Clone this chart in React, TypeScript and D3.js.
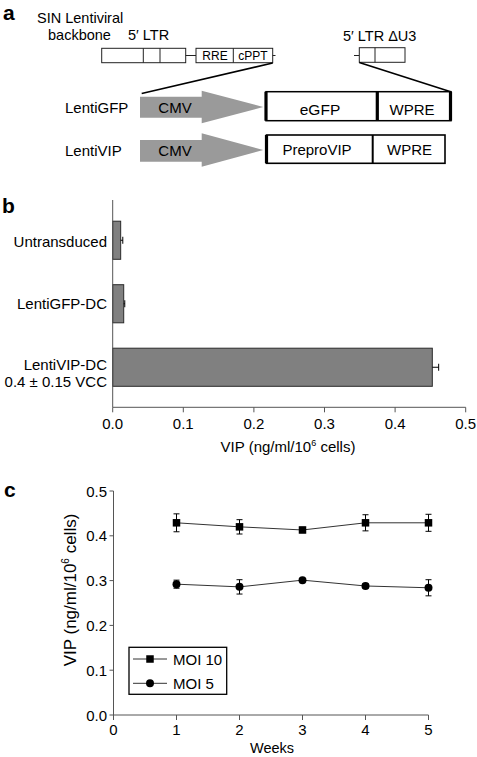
import React from "react";
import * as d3 from "d3";

// ---- Panel b data ----
const barCategories = ["Untransduced", "LentiGFP-DC", "LentiVIP-DC"];
const barValues = [0.0113, 0.0156, 0.4527];
const barErrors = [0.003, 0.0015, 0.009];
const barTicks = [0, 0.1, 0.2, 0.3, 0.4, 0.5];

// ---- Panel c data ----
const weeks = [1, 2, 3, 4, 5];
const moi10 = [0.429, 0.42, 0.413, 0.429, 0.429];
const moi10Err = [0.02, 0.016, 0.006, 0.018, 0.019];
const moi5 = [0.292, 0.286, 0.301, 0.288, 0.284];
const moi5Err = [0.009, 0.016, 0.003, 0.005, 0.018];
const weekTicks = [0, 1, 2, 3, 4, 5];
const vipTicks = [0, 0.1, 0.2, 0.3, 0.4, 0.5];

const FONT = "'Liberation Sans', Arial, Helvetica, sans-serif";

function PanelA() {
  const arrow = (top: number, bot: number, htop: number, hbot: number) => {
    const x0 = 140, xb = 201.7, xt = 263.3;
    const mid = (htop + hbot) / 2;
    return `${x0},${top} ${xb},${top} ${xb},${htop} ${xt},${mid} ${xb},${hbot} ${xb},${bot} ${x0},${bot}`;
  };
  return (
    <g fontFamily={FONT} fill="#000">
      <text x={3} y={19.5} fontSize={21} fontWeight="bold">a</text>
      <text x={37} y={22.5} fontSize={14.5}>SIN Lentiviral</text>
      <text x={48} y={39.5} fontSize={14.5}>backbone</text>
      <text x={128} y={39.5} fontSize={14.5}>5′ LTR</text>
      <text x={343} y={40.5} fontSize={14.5}>5′ LTR ΔU3</text>
      {/* backbone */}
      <g stroke="#222" strokeWidth={1} fill="#fff">
        <rect x={101.7} y={48.3} width={84} height={14.4} />
        <line x1={143.3} x2={143.3} y1={48.3} y2={62.7} />
        <line x1={160} x2={160} y1={48.3} y2={62.7} />
        <line x1={185.7} x2={196} y1={55.5} y2={55.5} />
        <rect x={196} y={48.3} width={76.7} height={14.4} />
        <line x1={233.3} x2={233.3} y1={48.3} y2={62.7} />
        <line x1={272.7} x2={275.5} y1={55.5} y2={55.5} />
        <line x1={354} x2={359.3} y1={55.5} y2={55.5} />
        <rect x={359.3} y={47.7} width={45.7} height={14.6} />
        <line x1={375} x2={375} y1={47.7} y2={62.3} />
      </g>
      <text x={215} y={59.5} fontSize={12} textAnchor="middle">RRE</text>
      <text x={253} y={59.5} fontSize={12} textAnchor="middle">cPPT</text>
      {/* expansion lines */}
      <line x1={272.7} y1={63} x2={141.7} y2={93.5} stroke="#000" strokeWidth={1.6} />
      <line x1={359.3} y1={62.5} x2={450.7} y2={91.7} stroke="#000" strokeWidth={1.6} />
      {/* arrows */}
      <polygon points={arrow(96.7, 117.7, 90.7, 123.3)} fill="#9a9a9a" />
      <polygon points={arrow(140, 161.7, 133.3, 166.7)} fill="#9a9a9a" />
      <text x={175} y={113} fontSize={15} textAnchor="middle">CMV</text>
      <text x={175} y={156} fontSize={15} textAnchor="middle">CMV</text>
      <text x={65} y={113} fontSize={15}>LentiGFP</text>
      <text x={65} y={156} fontSize={15}>LentiVIP</text>
      {/* eGFP box */}
      <rect x={266} y={91.7} width={185} height={29} fill="#fff" stroke="#000" strokeWidth={1.5} />
      <line x1={266} x2={266} y1={91.7} y2={120.7} stroke="#000" strokeWidth={3.2} />
      <line x1={377.3} x2={377.3} y1={91.7} y2={120.7} stroke="#000" strokeWidth={3.2} />
      <line x1={450.5} x2={450.5} y1={91.7} y2={120.7} stroke="#000" strokeWidth={3.2} />
      <text x={320} y={114.5} fontSize={15.5} textAnchor="middle">eGFP</text>
      <text x={412} y={114.5} fontSize={15} textAnchor="middle">WPRE</text>
      {/* PreproVIP box */}
      <rect x={266.5} y={135} width={178.5} height={28.3} fill="#fff" stroke="#000" strokeWidth={1.6} />
      <line x1={266.5} x2={266.5} y1={135} y2={163.3} stroke="#000" strokeWidth={3.2} />
      <line x1={372.7} x2={372.7} y1={135} y2={163.3} stroke="#000" strokeWidth={2} />
      <text x={317} y={155} fontSize={15} textAnchor="middle">PreproVIP</text>
      <text x={409.5} y={155} fontSize={15} textAnchor="middle">WPRE</text>
    </g>
  );
}

function PanelB() {
  const x = d3.scaleLinear().domain([0, 0.5]).range([112.7, 465.7]);
  const y = d3.scaleBand<string>().domain(barCategories).range([208.5, 399]).paddingInner(0.4).paddingOuter(0.2);
  const axisY = 407.3;
  return (
    <g fontFamily={FONT}>
      <text x={2} y={213} fontSize={21} fontWeight="bold">b</text>
      {barCategories.map((c, i) => {
        const y0 = y(c)!;
        const bw = y.bandwidth();
        const cy = y0 + bw / 2;
        const xe = x(barValues[i] + barErrors[i]);
        return (
          <g key={c}>
            <rect x={x(0)} y={y0} width={x(barValues[i]) - x(0)} height={bw} fill="#808080" stroke="#2a2a2a" strokeWidth={1} />
            <line x1={x(barValues[i])} x2={xe} y1={cy} y2={cy} stroke="#000" strokeWidth={1} />
            <line x1={xe} x2={xe} y1={cy - 3.5} y2={cy + 3.5} stroke="#000" strokeWidth={1} />
          </g>
        );
      })}
      {/* category labels */}
      <text x={107} y={y(barCategories[0])! + y.bandwidth() / 2 + 6.5} fontSize={15} textAnchor="end">Untransduced</text>
      <text x={107} y={y(barCategories[1])! + y.bandwidth() / 2 + 5.5} fontSize={15} textAnchor="end">LentiGFP-DC</text>
      <text x={107} y={y(barCategories[2])! + y.bandwidth() / 2 + 2.5} fontSize={15} textAnchor="end">LentiVIP-DC</text>
      <text x={107} y={y(barCategories[2])! + y.bandwidth() / 2 + 19.5} fontSize={15} textAnchor="end">0.4 ± 0.15 VCC</text>
      {/* axes */}
      <line x1={x(0)} x2={x(0)} y1={200} y2={axisY} stroke="#555" strokeWidth={1} />
      <line x1={x(0)} x2={x(0.5)} y1={axisY} y2={axisY} stroke="#555" strokeWidth={1} />
      {barTicks.map((t) => (
        <g key={t}>
          <line x1={x(t)} x2={x(t)} y1={axisY} y2={axisY + 5} stroke="#555" strokeWidth={1} />
          <text x={x(t)} y={429} fontSize={15} textAnchor="middle">{d3.format(".1f")(t)}</text>
        </g>
      ))}
      <text x={288} y={452} fontSize={15} textAnchor="middle">
        VIP (ng/ml/10<tspan dy={-6} fontSize={9}>6</tspan><tspan dy={6}> cells)</tspan>
      </text>
    </g>
  );
}

function PanelC() {
  const x = d3.scaleLinear().domain([0, 5]).range([113.5, 428.5]);
  const y = d3.scaleLinear().domain([0, 0.5]).range([715, 491]);
  const line = d3.line<number>().x((_, i) => x(weeks[i])).y((d) => y(d));
  const errBars = (vals: number[], errs: number[], key: string) =>
    vals.map((v, i) => {
      const cx = x(weeks[i]);
      return (
        <g key={key + i} stroke="#000" strokeWidth={1}>
          <line x1={cx} x2={cx} y1={y(v + errs[i])} y2={y(v - errs[i])} />
          <line x1={cx - 3} x2={cx + 3} y1={y(v + errs[i])} y2={y(v + errs[i])} />
          <line x1={cx - 3} x2={cx + 3} y1={y(v - errs[i])} y2={y(v - errs[i])} />
        </g>
      );
    });
  return (
    <g fontFamily={FONT}>
      <text x={4} y={497} fontSize={21} fontWeight="bold">c</text>
      {/* axes */}
      <line x1={x(0)} x2={x(0)} y1={y(0.5)} y2={y(0)} stroke="#555" strokeWidth={1} />
      <line x1={x(0)} x2={x(5)} y1={y(0)} y2={y(0)} stroke="#555" strokeWidth={1} />
      {vipTicks.map((t) => (
        <g key={"y" + t}>
          <line x1={x(0) - 4} x2={x(0)} y1={y(t)} y2={y(t)} stroke="#555" strokeWidth={1} />
          <text x={107} y={y(t) + 5.5} fontSize={15} textAnchor="end">{d3.format(".1f")(t)}</text>
        </g>
      ))}
      {weekTicks.map((t) => (
        <g key={"x" + t}>
          <line x1={x(t)} x2={x(t)} y1={y(0)} y2={y(0) + 5} stroke="#555" strokeWidth={1} />
          <text x={x(t)} y={735} fontSize={15} textAnchor="middle">{t}</text>
        </g>
      ))}
      <text x={272} y={753} fontSize={14.5} textAnchor="middle">Weeks</text>
      <text transform={`translate(76,590) rotate(-90)`} fontSize={17} textAnchor="middle">
        VIP (ng/ml/10<tspan dy={-7} fontSize={10}>6</tspan><tspan dy={7}> cells)</tspan>
      </text>
      {/* series */}
      <path d={line(moi10)!} fill="none" stroke="#333" strokeWidth={1} />
      <path d={line(moi5)!} fill="none" stroke="#333" strokeWidth={1} />
      {errBars(moi10, moi10Err, "a")}
      {errBars(moi5, moi5Err, "b")}
      {moi10.map((v, i) => (
        <rect key={"s" + i} x={x(weeks[i]) - 3.75} y={y(v) - 3.75} width={7.5} height={7.5} fill="#000" />
      ))}
      {moi5.map((v, i) => (
        <circle key={"c" + i} cx={x(weeks[i])} cy={y(v)} r={4} fill="#000" />
      ))}
      {/* legend */}
      <rect x={129} y={647.3} width={97.7} height={47} fill="#fff" stroke="#000" strokeWidth={1.3} />
      <line x1={133} x2={167} y1={659} y2={659} stroke="#333" strokeWidth={1} />
      <rect x={150 - 3.75} y={659 - 3.75} width={7.5} height={7.5} fill="#000" />
      <text x={173} y={664.5} fontSize={15}>MOI 10</text>
      <line x1={133} x2={167} y1={683.3} y2={683.3} stroke="#333" strokeWidth={1} />
      <circle cx={150} cy={683.3} r={4} fill="#000" />
      <text x={173} y={688.8} fontSize={15}>MOI 5</text>
    </g>
  );
}

export default function App() {
  return (
    <svg
      width={477}
      height={757}
      viewBox="0 0 477 757"
      style={{ position: "absolute", left: 0, top: 0, background: "#fff" }}
    >
      <rect x={0} y={0} width={477} height={757} fill="#fff" />
      <PanelA />
      <PanelB />
      <PanelC />
    </svg>
  );
}
